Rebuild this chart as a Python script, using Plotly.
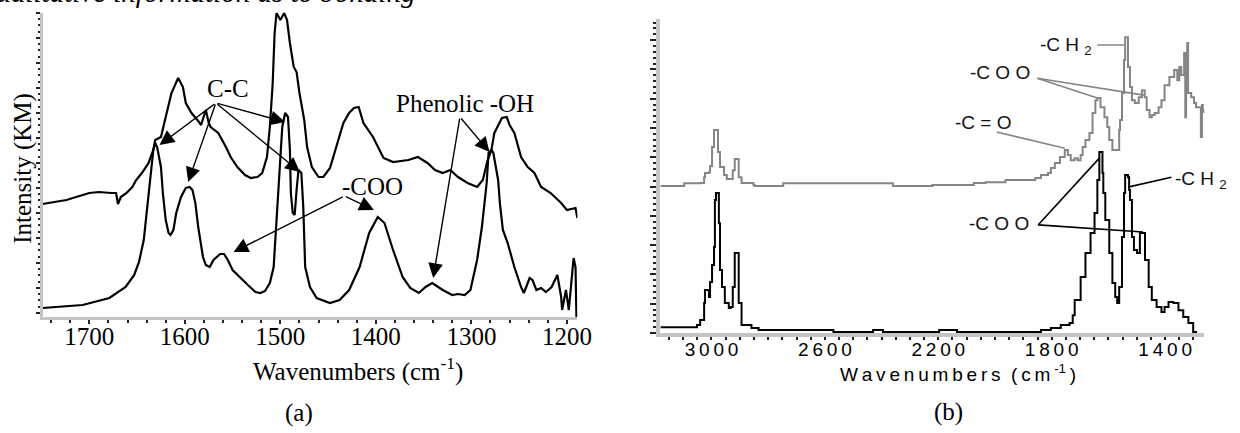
import plotly.graph_objects as go

# ---------------- Panel (a) data ----------------
a_upper_wn = [1749, 1724, 1700, 1690, 1677, 1672, 1670, 1667, 1661, 1655, 1651, 1645, 1638, 1633, 1631,
              1625, 1620, 1614, 1607, 1602, 1599, 1593, 1586, 1583, 1578, 1575, 1573, 1565, 1557, 1552,
              1545, 1537, 1531, 1524, 1519, 1514, 1511, 1508, 1506, 1504, 1500, 1496, 1493, 1490, 1486,
              1483, 1480, 1475, 1472, 1467, 1460, 1455, 1448, 1439, 1434, 1428, 1423, 1418, 1413, 1403,
              1392, 1382, 1366, 1356, 1346, 1338, 1330, 1322, 1314, 1304, 1294, 1288, 1283, 1279, 1276,
              1268, 1265, 1263, 1260, 1255, 1248, 1241, 1234, 1227, 1217, 1206, 1200, 1191, 1189]
a_upper_int = [4.52, 4.68, 4.96, 5.0, 4.96, 4.96, 4.52, 4.8, 4.96, 5.2, 5.48, 5.76, 6.16, 6.68, 7.08,
               7.2, 8.0, 8.96, 9.56, 9.2, 8.56, 8.16, 7.84, 7.68, 8.28, 7.76, 7.6, 7.36, 6.8, 6.4,
               6.0, 5.68, 5.56, 5.6, 5.76, 6.4, 7.6, 9.36, 11.36, 12.16, 11.88, 12.16, 11.88, 10.96, 10.0,
               9.8, 8.96, 7.88, 6.8, 6.0, 5.6, 5.6, 5.96, 7.08, 7.76, 8.16, 8.36, 8.4, 7.76, 7.2,
               6.36, 6.2, 6.28, 6.4, 6.16, 5.88, 5.76, 5.88, 5.6, 5.36, 5.2, 5.48, 6.28, 6.68, 7.36,
               7.96, 8.0, 8.0, 7.68, 7.36, 6.4, 6.0, 5.76, 5.2, 4.96, 4.56, 4.28, 4.36, 3.96]

a_lower_wn = [1749, 1707, 1679, 1662, 1653, 1648, 1643, 1640, 1636, 1633, 1631, 1629, 1625, 1623, 1620,
              1617, 1615, 1612, 1609, 1604, 1599, 1595, 1592, 1589, 1586, 1581, 1578, 1574, 1570, 1563,
              1559, 1555, 1550, 1543, 1534, 1526, 1521, 1516, 1511, 1507, 1505, 1501, 1498, 1495, 1492,
              1490, 1489, 1487, 1485, 1483, 1481, 1478, 1476, 1474, 1469, 1462, 1448, 1438, 1428, 1417,
              1407, 1398, 1391, 1382, 1372, 1364, 1355, 1348, 1341, 1330, 1320, 1314, 1307, 1301, 1294,
              1289, 1286, 1284, 1282, 1279, 1277, 1272, 1270, 1267, 1262, 1255, 1248, 1245, 1239, 1236,
              1232, 1227, 1222, 1216, 1210, 1206, 1205, 1201, 1198, 1193, 1191, 1190]
a_lower_int = [0.36, 0.48, 0.76, 1.2, 1.68, 2.2, 3.08, 4.08, 5.48, 6.68, 6.96, 6.8, 6.0, 4.96, 3.88,
               3.36, 3.28, 3.48, 4.16, 4.8, 5.16, 5.2, 5.08, 4.56, 3.6, 2.4, 2.08, 2.0, 2.28, 2.52,
               2.52, 2.28, 1.88, 1.6, 1.28, 1.0, 0.96, 1.04, 1.36, 2.0, 3.36, 5.76, 7.6, 8.16, 8.0,
               6.68, 4.96, 4.16, 4.08, 5.08, 5.88, 5.76, 4.4, 2.0, 1.2, 0.76, 0.56, 0.68, 1.08, 2.0,
               3.36, 4.0, 3.76, 2.68, 1.6, 1.16, 0.96, 1.2, 1.36, 1.08, 0.88, 0.92, 0.88, 1.08, 2.28,
               3.6, 4.68, 5.36, 6.56, 6.68, 6.56, 5.48, 4.48, 3.48, 2.96, 2.0, 1.2, 0.96, 1.56, 1.48,
               1.08, 1.16, 1.0, 1.2, 1.68, 0.8, 0.28, 1.08, 0.28, 2.36, 2.0, 0.0]

a_ticks = [1700, 1600, 1500, 1400, 1300, 1200]

# ---------------- Panel (b) data ----------------
b_gray_wn = [3180, 3096, 3040, 3026, 3023, 3009, 3005, 2998, 2991, 2981, 2977, 2970, 2956, 2946, 2936,
             2925, 2918, 2908, 2904, 2894, 2852, 2848, 2747, 2360, 2221, 2075, 2033, 1963, 1858, 1838,
             1813, 1803, 1789, 1771, 1754, 1743, 1733, 1719, 1708, 1698, 1691, 1681, 1667, 1656, 1646,
             1639, 1628, 1614, 1604, 1597, 1586, 1576, 1562, 1559, 1552, 1545, 1541, 1538, 1531, 1524,
             1517, 1507, 1493, 1482, 1472, 1465, 1455, 1447, 1437, 1423, 1413, 1402, 1385, 1368, 1357,
             1350, 1343, 1333, 1329, 1326, 1322, 1319, 1308, 1298, 1291, 1284, 1274, 1270, 1267, 1263]
b_gray_int = [5.02, 5.11, 5.12, 5.32, 5.46, 5.49, 5.70, 6.35, 6.93, 6.93, 6.18, 5.67, 5.39, 5.26, 5.26,
              5.56, 5.94, 5.94, 5.32, 5.12, 5.05, 5.02, 5.11, 5.02, 5.05, 5.12, 5.15, 5.22, 5.29, 5.39,
              5.46, 5.63, 5.80, 6.01, 6.25, 6.08, 5.90, 5.97, 5.90, 6.08, 6.35, 6.59, 6.83, 7.51, 7.95,
              8.02, 7.71, 7.37, 7.03, 6.59, 6.25, 6.25, 6.93, 7.27, 8.19, 9.32, 10.10, 10.10, 9.08, 8.40,
              7.95, 7.85, 8.05, 8.29, 8.05, 7.61, 7.37, 7.44, 7.51, 7.71, 7.95, 8.46, 8.74, 8.98, 8.63,
              9.08, 8.81, 9.56, 7.37, 9.22, 9.90, 8.19, 8.05, 7.85, 7.71, 7.71, 6.69, 7.78, 7.61, 7.51]

b_black_wn = [3180, 3061, 3051, 3040, 3026, 3023, 3012, 3009, 3005, 2998, 2991, 2988, 2984, 2977, 2974,
              2970, 2963, 2953, 2939, 2932, 2925, 2918, 2908, 2904, 2894, 2859, 2834, 2580, 2570, 2441,
              2430, 2406, 2395, 2197, 2134, 1858, 1838, 1803, 1768, 1737, 1726, 1719, 1698, 1681, 1663,
              1649, 1639, 1632, 1628, 1621, 1618, 1611, 1597, 1586, 1576, 1569, 1562, 1552, 1545, 1541,
              1531, 1527, 1524, 1517, 1510, 1499, 1489, 1478, 1471, 1458, 1447, 1430, 1413, 1402, 1388,
              1371, 1353, 1336, 1318, 1301, 1291]
b_black_int = [0.20, 0.20, 0.27, 0.44, 1.02, 1.47, 1.47, 1.23, 1.74, 2.32, 2.94, 4.54, 4.78, 4.78, 3.75,
               2.15, 1.57, 1.02, 0.85, 0.89, 1.57, 2.73, 2.73, 1.02, 0.27, 0.17, 0.10, 0.10, 0.03, 0.03,
               0.10, 0.10, 0.03, 0.10, 0.03, 0.03, 0.10, 0.17, 0.27, 0.34, 0.61, 1.13, 1.91, 2.73, 3.41,
               4.10, 5.22, 6.18, 6.18, 5.46, 4.78, 3.86, 2.73, 1.71, 1.23, 1.02, 1.57, 3.28, 4.78, 5.39,
               5.32, 4.88, 4.54, 3.28, 2.83, 2.73, 3.41, 3.41, 2.49, 1.57, 1.13, 0.89, 0.72, 0.89, 1.06,
               1.02, 0.78, 0.55, 0.34, 0.03, 0.0]

b_ticks = [3000, 2600, 2200, 1800, 1400]
b_tick_text = ["\u2009".join(str(t)) for t in b_ticks]

SERIF = "Liberation Serif, Times New Roman, serif"
SANS = "Liberation Sans, Arial, sans-serif"
AXIS_GRAY = "#c4c4c4"
CURVE_GRAY = "#858585"

fig = go.Figure()

fig.add_trace(go.Scatter(x=a_upper_wn, y=a_upper_int, mode="lines",
                         line=dict(color="black", width=2.2), xaxis="x", yaxis="y", showlegend=False))
fig.add_trace(go.Scatter(x=a_lower_wn, y=a_lower_int, mode="lines",
                         line=dict(color="black", width=2.2), xaxis="x", yaxis="y", showlegend=False))
fig.add_trace(go.Scatter(x=b_gray_wn, y=b_gray_int, mode="lines", line_shape="hv",
                         line=dict(color=CURVE_GRAY, width=2), xaxis="x2", yaxis="y2", showlegend=False))
fig.add_trace(go.Scatter(x=b_black_wn, y=b_black_int, mode="lines", line_shape="hv",
                         line=dict(color="black", width=2), xaxis="x2", yaxis="y2", showlegend=False))

annotations = []

# Arrows in panel (a): (tail, tips)
arrow_groups = [
    ((1567.5, 8.56), [(1626.5, 6.88), (1596.5, 5.4), (1495, 7.8), (1479.5, 5.8)]),
    ((1433, 4.84), [(1549, 2.6), (1402, 4.28)]),
    ((1312, 8.0), [(1281, 6.6), (1340, 1.56)]),
]
for (tx, ty), tips in arrow_groups:
    for (hx, hy) in tips:
        annotations.append(dict(x=hx, y=hy, ax=tx, ay=ty, xref="x", yref="y", axref="x", ayref="y",
                                text="", showarrow=True, arrowhead=2, arrowsize=2.1, arrowwidth=1.4,
                                arrowcolor="black", standoff=0, startstandoff=0))

a_labels = [("C-C", 1555, 9.16), ("-COO", 1404, 5.24), ("Phenolic -OH", 1307, 8.56)]
for txt, x, y in a_labels:
    annotations.append(dict(x=x, y=y, xref="x", yref="y", text=txt, showarrow=False,
                            font=dict(family=SERIF, size=25, color="black"),
                            xanchor="center", yanchor="middle"))

# Panel (b) labels
b_labels = [
    ("-C H <sub>2</sub>", 1850, 9.80, "left"),
    ("-C O O", 1984, 8.91, "center"),
    ("-C = O", 2043, 7.20, "center"),
    ("-C H <sub>2</sub>", 1372, 5.22, "left"),
    ("-C O O", 1987, 3.75, "center"),
]
for txt, x, y, anc in b_labels:
    annotations.append(dict(x=x, y=y, xref="x2", yref="y2", text=txt, showarrow=False,
                            font=dict(family=SANS, size=19, color="#111"),
                            xanchor=anc, yanchor="middle"))

# Axis titles and panel letters
annotations += [
    dict(x=0.2923, y=0.1455, xref="paper", yref="paper", showarrow=False,
         text="Wavenumbers (cm<sup>-1</sup>)", font=dict(family=SERIF, size=25, color="black"),
         xanchor="center", yanchor="middle"),
    dict(x=0.0186, y=0.612, xref="paper", yref="paper", showarrow=False, textangle=-90,
         text="Intensity (KM)", font=dict(family=SERIF, size=25, color="black"),
         xanchor="center", yanchor="middle"),
    dict(x=0.2435, y=0.0462, xref="paper", yref="paper", showarrow=False, text="(a)",
         font=dict(family=SERIF, size=25, color="black"), xanchor="center", yanchor="middle"),
    dict(x=0.781, y=0.138, xref="paper", yref="paper", showarrow=False,
         text="\u2009".join("Wavenumbers") + "  (\u2009c\u2009m\u2009<sup>-1</sup>\u2009)",
         font=dict(family=SANS, size=19, color="black"), xanchor="center", yanchor="middle"),
    dict(x=0.7734, y=0.0485, xref="paper", yref="paper", showarrow=False, text="(b)",
         font=dict(family=SERIF, size=25, color="black"), xanchor="center", yanchor="middle"),
    dict(x=422 / 1240, y=0.978, xref="paper", yref="paper", showarrow=False,
         text="<i>qualitative information as to bonding</i>",
         font=dict(family=SERIF, size=29, color="black"), xanchor="right", yanchor="bottom"),
]

# Leader lines in panel (b)
leaders = [
    (CURVE_GRAY, (1639, 9.83), (1545, 9.83)),
    (CURVE_GRAY, (1851, 8.70), (1639, 8.02)),
    (CURVE_GRAY, (1851, 8.70), (1475, 8.12)),
    (CURVE_GRAY, (1994, 6.86), (1754, 6.31)),
    ("black", (1531, 4.98), (1378, 5.32)),
    ("black", (1848, 3.69), (1632, 5.97)),
    ("black", (1848, 3.69), (1478, 3.45)),
]
shapes = []
for col, (x0, y0), (x1, y1) in leaders:
    shapes.append(dict(type="line", xref="x2", yref="y2", x0=x0, y0=y0, x1=x1, y1=y1,
                       line=dict(color=col, width=1.6)))

fig.update_layout(
    width=1240, height=433,
    margin=dict(l=0, r=0, t=0, b=0),
    paper_bgcolor="white", plot_bgcolor="white",
    showlegend=False,
    annotations=annotations,
    shapes=shapes,
    xaxis=dict(domain=[43 / 1240, 584 / 1240], range=[1749, 1189], anchor="y",
               tickmode="array", tickvals=a_ticks, ticktext=[str(t) for t in a_ticks],
               tickfont=dict(family=SERIF, size=25, color="black"), ticklabelstandoff=-9,
               showline=True, linecolor=AXIS_GRAY, linewidth=3, mirror=False,
               ticks="outside", ticklen=4, tickwidth=1.5, tickcolor="#222",
               minor=dict(tickmode="linear", tick0=1200, dtick=20, ticks="outside", ticklen=3,
                          tickwidth=1.5, tickcolor="#222"),
               showgrid=False, zeroline=False),
    yaxis=dict(domain=[1 - 317 / 433, 1 - 12.5 / 433], range=[0, 12.18], anchor="x",
               showticklabels=False, tickmode="linear", tick0=0.17, dtick=1,
               showline=True, linecolor=AXIS_GRAY, linewidth=3,
               ticks="outside", ticklen=4, tickwidth=1.5, tickcolor="#222",
               minor=dict(tickmode="linear", tick0=0.17, dtick=0.25, ticks="outside", ticklen=2,
                          tickwidth=1.5, tickcolor="#222"),
               showgrid=False, zeroline=False),
    xaxis2=dict(domain=[668 / 1240, 1218 / 1240], range=[3180, 1262], anchor="y2",
                tickmode="array", tickvals=b_ticks, ticktext=b_tick_text,
                tickfont=dict(family=SANS, size=19, color="black"), ticklabelstandoff=-7,
                showline=True, linecolor=AXIS_GRAY, linewidth=4,
                ticks="outside", ticklen=3, tickwidth=2, tickcolor="#222",
                minor=dict(tickmode="linear", tick0=1400, dtick=50, ticks="outside", ticklen=3,
                           tickwidth=2, tickcolor="#222"),
                showgrid=False, zeroline=False),
    yaxis2=dict(domain=[1 - 333 / 433, 1 - 19 / 433], range=[0, 10.72], anchor="x2",
                showticklabels=False, tickmode="linear", tick0=0, dtick=1,
                showline=True, linecolor=AXIS_GRAY, linewidth=4,
                ticks="outside", ticklen=6, tickwidth=2, tickcolor="#222",
                minor=dict(tickmode="linear", tick0=0, dtick=0.2, ticks="outside", ticklen=3,
                           tickwidth=2, tickcolor="#222"),
                showgrid=False, zeroline=False),
)

fig.write_html("out.html")
